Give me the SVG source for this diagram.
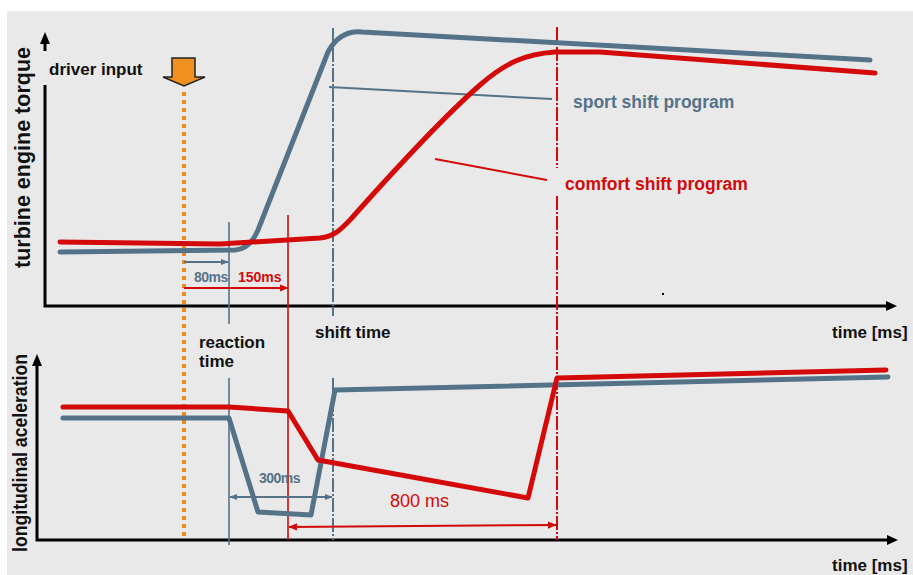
<svg xmlns="http://www.w3.org/2000/svg" width="913" height="575" viewBox="0 0 913 575">
<style>
.lbl{font-family:"Liberation Sans",Arial,sans-serif;font-weight:bold;fill:#111;font-size:17px}
.blue{stroke:#557388;fill:none}
.red{stroke:#d40a0a;fill:none}
.axis{stroke:#000;stroke-width:3;fill:none}
.curve{stroke-width:5;stroke-linejoin:round;stroke-linecap:round}
.thin{stroke-width:1.6}
</style>
<defs>
<marker id="ab" viewBox="0 0 10 10" refX="9" refY="5" markerWidth="8" markerHeight="8" markerUnits="userSpaceOnUse" orient="auto-start-reverse"><path d="M0,1 L10,5 L0,9 z" fill="#557388"/></marker>
<marker id="ar" viewBox="0 0 10 10" refX="9" refY="5" markerWidth="9" markerHeight="9" markerUnits="userSpaceOnUse" orient="auto-start-reverse"><path d="M0,1 L10,5 L0,9 z" fill="#d40a0a"/></marker>
</defs>
<rect x="7" y="11" width="906" height="564" fill="#e9e9e9"/>

<g id="axes">
<path class="axis" d="M45,42 L45,51 M45,85 L45,306 L888,306"/>
<path d="M40,44 L45,32 L50,44 z" fill="#000"/>
<path d="M886,301 L897,306 L886,311 z" fill="#000"/>
<path class="axis" d="M37,365 L37,540 L889,540"/>
<path d="M32,366 L37,354 L42,366 z" fill="#000"/>
<path d="M887,535 L898,540 L887,545 z" fill="#000"/>
<text class="lbl" transform="translate(30,268) rotate(-90)" style="font-size:21.5px">turbine engine torque</text>
<text class="lbl" transform="translate(27,552) rotate(-90)" style="font-size:20px" textLength="198" lengthAdjust="spacingAndGlyphs">longitudinal aceleration</text>
<text class="lbl" x="832" y="338">time [ms]</text>
<text class="lbl" x="832" y="571">time [ms]</text>
<rect x="662" y="293" width="2" height="2" fill="#000"/>
</g>

<g id="driver-input">
<text class="lbl" x="49" y="75">driver input</text>
<polygon points="172,58 195,58 195,77 205,77 184,86 163,77 172,77" fill="#f0901e" stroke="#222" stroke-width="1.5"/>
<line x1="184" y1="92" x2="184" y2="540" stroke="#f08a1e" stroke-width="4" stroke-dasharray="4 4"/>
</g>

<g id="connectors">
<line class="blue thin" x1="229" y1="222" x2="229" y2="324"/>
<line class="blue thin" x1="229" y1="378" x2="229" y2="545"/>
<line class="red thin" x1="288" y1="215" x2="288" y2="540"/>
<line class="blue" stroke-width="2" stroke-dasharray="14 2 2 2" x1="333" y1="28" x2="333" y2="316"/>
<line class="blue" stroke-width="2" stroke-dasharray="14 2 2 2" x1="333" y1="378" x2="333" y2="540"/>
<line class="red" stroke-width="2" stroke-dasharray="14 2 2 2" x1="557" y1="27" x2="557" y2="168"/>
<line class="red" stroke-width="2" stroke-dasharray="14 2 2 2" x1="557" y1="196" x2="557" y2="540"/>
<line class="blue" stroke-width="2" x1="329" y1="87" x2="552" y2="99"/>
<line class="red" stroke-width="2" x1="435" y1="159" x2="547" y2="180"/>
<line class="blue" stroke-width="2" x1="184" y1="262" x2="228" y2="262" marker-end="url(#ab)"/>
<line class="red" stroke-width="2" x1="184" y1="288" x2="288" y2="288" marker-end="url(#ar)"/>
<line class="blue" stroke-width="2" x1="230" y1="497" x2="332" y2="497" marker-start="url(#ab)" marker-end="url(#ab)"/>
<line class="red" stroke-width="2" x1="289" y1="527" x2="556" y2="525" marker-start="url(#ar)" marker-end="url(#ar)"/>
</g>

<g id="sport-torque">
<path class="blue curve" d="M60,252 L235,250 Q250,249 258,230 L328,52 Q340,30 362,32 L870,60"/>
</g>
<g id="comfort-torque">
<path class="red curve" d="M60,242 L220,244 L320,238 C335,236 340,230 350,220 C390,175 440,120 480,85 C505,63 525,54 555,52 L600,52 L875,73"/>
</g>
<g id="sport-accel">
<path class="blue curve" d="M63,418 L229,418 L258,512 L311,515 L335,390 L888,377"/>
</g>
<g id="comfort-accel">
<path class="red curve" d="M63,407 L229,407 L288,411 L318,460 L528,498 L557,378 L886,370"/>
</g>

<g id="labels">
<text class="lbl" x="573" y="108" style="fill:#557388;font-size:17.5px">sport shift program</text>
<text class="lbl" x="565" y="190" style="fill:#d40a0a;font-size:17.5px">comfort shift program</text>
<text class="lbl" x="199" y="348">reaction</text>
<text class="lbl" x="199" y="367">time</text>
<text class="lbl" x="315" y="338">shift time</text>
<text class="lbl" x="194" y="282" style="fill:#557388;font-size:14px;letter-spacing:-0.5px">80ms</text>
<text class="lbl" x="238" y="282" style="fill:#d40a0a;font-size:14px">150ms</text>
<text class="lbl" x="259" y="483" style="fill:#557388;font-size:14px;letter-spacing:-0.5px">300ms</text>
<text x="390" y="507" font-family="Liberation Sans, Arial, sans-serif" font-size="18" fill="#d40a0a">800 ms</text>
</g>
</svg>
